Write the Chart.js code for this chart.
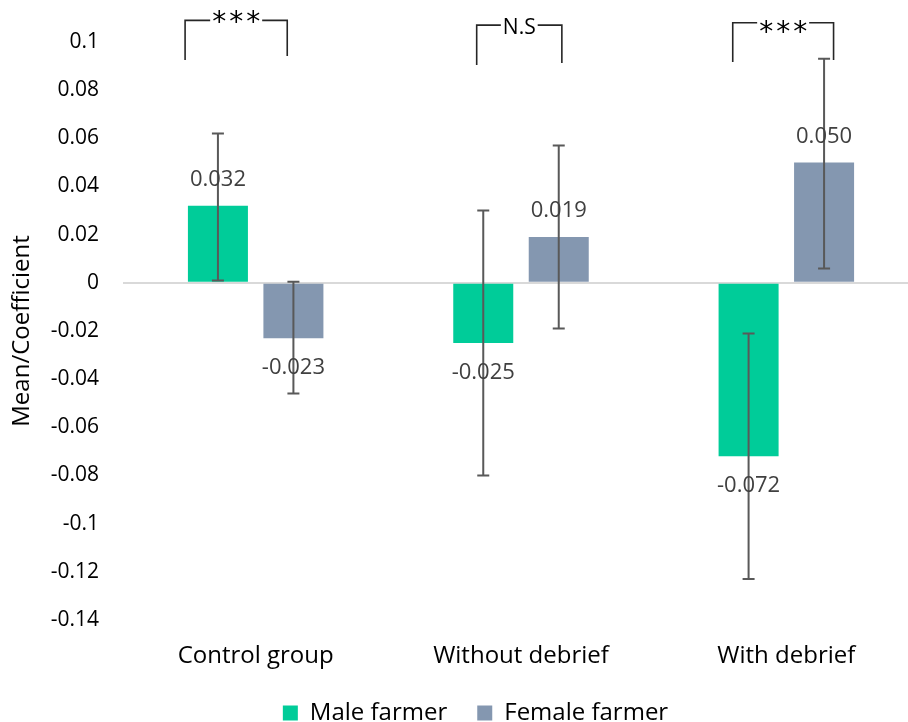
<!DOCTYPE html>
<html>
<head>
<meta charset="utf-8">
<script src="https://cdn.jsdelivr.net/npm/chart.js@4.4.1/dist/chart.umd.min.js"></script>
<style>
  html, body { margin: 0; padding: 0; background: #fff; overflow: hidden; }
  canvas { display: block; }
</style>
</head>
<body>
<canvas id="chart" width="951" height="722"></canvas>
<script>
const categories = ['Control group', 'Without debrief', 'With debrief'];
const seriesNames = ['Male farmer', 'Female farmer'];
const maleMean = [0.032, -0.025, -0.072];
const femaleMean = [-0.023, 0.019, 0.050];
// estremi delle barre d'errore
const maleUpper = [0.062, 0.030, -0.021];
const maleLower = [0.001, -0.080, -0.123];
const femaleUpper = [0.0005, 0.057, 0.093];
const femaleLower = [-0.046, -0.019, 0.006];
// asse Y
const yMin = -0.14;
const yMax = 0.1;
const yStep = 0.02;
// parentesi di significatività (x in unità di categoria, y in unità dati)
const sigLabels = ['***', 'N.S', '***'];
const sigFrom = [-0.266, 0.833, 1.798];
const sigTo = [0.119, 1.154, 2.178];
const sigTop = [0.109, 0.107, 0.108];
const sigFootL = [0.0925, 0.0905, 0.0917];
const sigFootR = [0.0942, 0.0913, 0.0925];

const MALE = '#00CC99';
const FEMALE = '#8497B0';
const FONT = '"Open Sans", sans-serif';

// barre d'errore con cappello
const errorBars = {
  id: 'errorBars',
  afterDatasetsDraw(chart) {
    const ctx = chart.ctx, ys = chart.scales.y;
    const bounds = [[maleUpper, maleLower], [femaleUpper, femaleLower]];
    ctx.save();
    ctx.strokeStyle = '#595959';
    ctx.lineWidth = 2;
    chart.data.datasets.forEach((ds, di) => {
      chart.getDatasetMeta(di).data.forEach((bar, i) => {
        const yt = ys.getPixelForValue(bounds[di][0][i]);
        const yb = ys.getPixelForValue(bounds[di][1][i]);
        ctx.beginPath();
        ctx.moveTo(bar.x, yt); ctx.lineTo(bar.x, yb);
        ctx.moveTo(bar.x - 6, yt); ctx.lineTo(bar.x + 6, yt);
        ctx.moveTo(bar.x - 6, yb); ctx.lineTo(bar.x + 6, yb);
        ctx.stroke();
      });
    });
    ctx.restore();
  }
};

// etichette dei valori, fuori dall'estremità della barra
const valueLabels = {
  id: 'valueLabels',
  afterDraw(chart) {
    const ctx = chart.ctx;
    ctx.save();
    ctx.font = '22px ' + FONT;
    ctx.fillStyle = '#404040';
    ctx.textAlign = 'center';
    ctx.textBaseline = 'middle';
    chart.data.datasets.forEach((ds, di) => {
      chart.getDatasetMeta(di).data.forEach((bar, i) => {
        const v = ds.data[i];
        const y = v >= 0 ? bar.y - 26 : bar.y + 30;
        ctx.fillText(v.toFixed(3), bar.x, y);
      });
    });
    ctx.restore();
  }
};

// parentesi con asterischi / N.S
const brackets = {
  id: 'brackets',
  afterDraw(chart) {
    const ctx = chart.ctx, xs = chart.scales.x, ys = chart.scales.y;
    ctx.save();
    ctx.strokeStyle = '#262626';
    ctx.fillStyle = '#000';
    ctx.lineWidth = 1.6;
    sigLabels.forEach((lab, i) => {
      const x1 = xs.getPixelForValue(sigFrom[i]);
      const x2 = xs.getPixelForValue(sigTo[i]);
      const yt = ys.getPixelForValue(sigTop[i]);
      const yl = ys.getPixelForValue(sigFootL[i]);
      const yr = ys.getPixelForValue(sigFootR[i]);
      const stars = lab.indexOf('*') >= 0;
      const sp = stars ? 3 : 0;
      ctx.font = stars ? '28px "DejaVu Sans", sans-serif' : '21px ' + FONT;
      if ('letterSpacing' in ctx) ctx.letterSpacing = sp + 'px';
      const m = ctx.measureText(lab);
      const w = m.width - sp;
      const xm = (x1 + x2) / 2;
      ctx.beginPath();
      ctx.moveTo(x1, yl); ctx.lineTo(x1, yt); ctx.lineTo(xm - w / 2 - 2, yt);
      ctx.moveTo(xm + w / 2 + 2, yt); ctx.lineTo(x2, yt); ctx.lineTo(x2, yr);
      ctx.stroke();
      ctx.textAlign = 'left';
      ctx.textBaseline = 'alphabetic';
      const target = yt + (stars ? 4 : 0.5);
      const base = target + (m.actualBoundingBoxAscent - m.actualBoundingBoxDescent) / 2;
      ctx.fillText(lab, xm - w / 2, base);
    });
    ctx.restore();
  }
};

// altezza fissa della legenda
const legendHeight = {
  id: 'legendHeight',
  beforeInit(chart) {
    const fit = chart.legend.fit;
    chart.legend.fit = function () {
      fit.bind(chart.legend)();
      this.height = 51;
    };
  }
};

new Chart(document.getElementById('chart'), {
  type: 'bar',
  data: {
    labels: categories,
    datasets: [
      { label: seriesNames[0], data: maleMean, backgroundColor: MALE },
      { label: seriesNames[1], data: femaleMean, backgroundColor: FEMALE }
    ]
  },
  options: {
    responsive: false,
    animation: false,
    devicePixelRatio: 1,
    categoryPercentage: 0.569,
    barPercentage: 0.795,
    layout: { padding: { top: 42, left: 0, right: 0, bottom: 0 } },
    plugins: {
      tooltip: { enabled: false },
      legend: {
        position: 'bottom',
        labels: {
          boxWidth: 15,
          boxHeight: 15,
          padding: 30,
          color: '#000',
          font: { family: 'Open Sans', size: 24 }
        }
      }
    },
    scales: {
      x: {
        afterFit(scale) { scale.height = 51; },
        grid: { display: false, drawTicks: false },
        border: { display: false },
        ticks: { color: '#000', padding: 22, font: { family: 'Open Sans', size: 24 } }
      },
      y: {
        min: yMin,
        max: yMax,
        afterFit(scale) { scale.width = 123; },
        grid: {
          drawTicks: false,
          lineWidth: 2,
          color: c => (c.tick && Math.abs(c.tick.value) < 1e-9) ? '#d9d9d9' : 'rgba(0,0,0,0)'
        },
        border: { display: false },
        ticks: {
          stepSize: yStep,
          padding: 24,
          color: '#000',
          font: { family: 'Open Sans', size: 21 },
          callback: v => String(Math.round(v * 100) / 100)
        },
        title: {
          display: true,
          text: 'Mean/Coefficient',
          color: '#000',
          padding: { top: 8, bottom: 0 },
          font: { family: 'Open Sans', size: 24 }
        }
      },
      // asse fantasma a destra: margine dell'area di disegno
      yRight: {
        position: 'right',
        min: yMin,
        max: yMax,
        afterFit(scale) { scale.width = 32; },
        grid: { display: false, drawTicks: false },
        border: { display: false },
        ticks: { display: false }
      }
    }
  },
  plugins: [errorBars, valueLabels, brackets, legendHeight]
});
</script>
</body>
</html>
